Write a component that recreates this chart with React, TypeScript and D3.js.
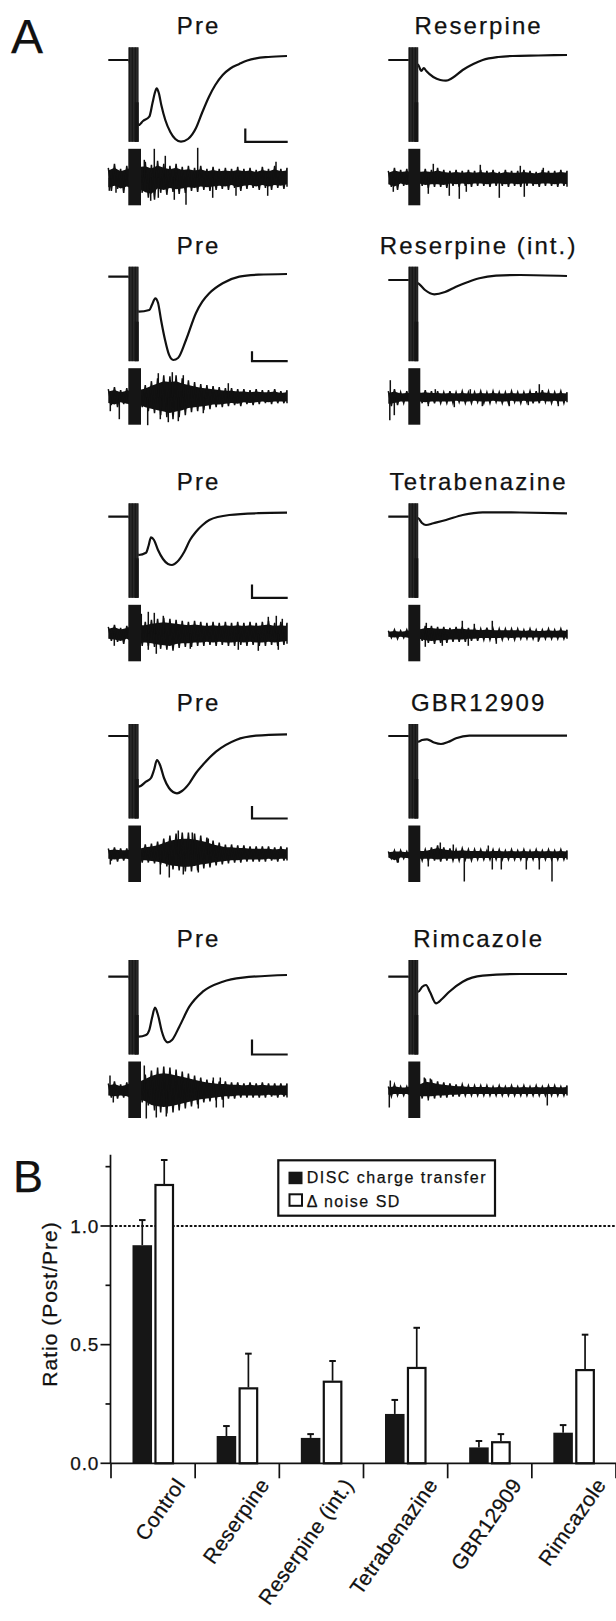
import React from "react";
import * as d3 from "d3";

const FONT = "'Liberation Sans', Arial, Helvetica, sans-serif";

// ===== Panel A: titles =====
const preTitles = ["Pre", "Pre", "Pre", "Pre", "Pre"];
const drugTitles = ["Reserpine", "Reserpine (int.)", "Tetrabenazine", "GBR12909", "Rimcazole"];

// ===== Panel A: evoked currents [time, current] =====
const pre1 = [[0, 0], [20, 0], [30.4, -65], [34.7, -61], [41, -56.7], [44.2, -43], [46.5, -33], [48.4, -28.3], [50.5, -33], [53, -45], [57, -60], [62, -72], [67, -79], [72.7, -81.7], [79.7, -79], [87.7, -68], [93.7, -53], [100.7, -36.7], [107, -25], [114.4, -15], [122, -8.5], [131, -4], [139, -0.5], [147.7, 1.7], [160, 3], [178.7, 4]];
const drug1 = [[0, 0], [20, 0], [30, -5], [33, -11], [35.5, -8], [38, -11], [45, -17], [52, -20], [57.7, -20.7], [64, -18], [74.4, -10], [85, -4], [94.4, 0], [110, 3], [124.4, 4], [150, 4.5], [178.7, 5]];
const pre2 = [[0, 0], [20, 0], [30.4, -35], [41, -33.3], [43.7, -28], [47, -21.6], [49.7, -26], [52.7, -43], [56.7, -63], [60.7, -78], [65, -83.3], [69.7, -81.3], [77.7, -63.3], [87.7, -36.3], [94, -25], [101, -16.6], [114.4, -6.6], [131, 0], [150, 2], [178.7, 2.7]];
const drug2 = [[0, 0], [20, 0], [30, -3.3], [36.7, -10], [46, -14.3], [56.7, -12], [67.7, -6.7], [79.7, -2], [91, 1.7], [107.7, 4.3], [131.7, 5], [178.7, 4]];
const pre3 = [[0, 0], [20, 0], [30.4, -38.3], [37.7, -36], [40.2, -29.3], [42.7, -20.6], [45.7, -23.3], [49.7, -33.3], [54.7, -42.3], [59.7, -47.3], [63.7, -48.3], [68.7, -45.3], [76, -35], [81.7, -23.3], [87.7, -15], [94, -8.5], [101, -3.3], [121, 1.7], [150, 3.5], [178.7, 4]];
const drug3 = [[0, 0], [20, 0], [30, -1.6], [33.7, -6.3], [37.7, -8.3], [45, -6.5], [57.7, -3.3], [74.4, 1.7], [94.4, 4.4], [131.7, 4.2], [178.7, 3.4]];
const pre4 = [[0, 0], [20, 0], [30.4, -50.7], [37.7, -45.7], [42.7, -42], [45.7, -34], [48.7, -24], [51.7, -29], [55.7, -42], [60.7, -52], [64.7, -56], [68.7, -57.3], [73.7, -55], [81, -47.3], [87.7, -37], [94.4, -29], [107.7, -15.7], [127.7, -4], [147.7, 0.3], [178.7, 1.7]];
const drug4 = [[0, 0], [20, 0], [30, -5.7], [33.7, -4], [38.7, -3.3], [45.7, -6.5], [52.7, -8], [59.7, -6], [67.7, -2.3], [81, 0.3], [178.7, 0.3]];
const pre5 = [[0, 0], [20, 0], [30.4, -60], [37.7, -58.3], [41, -53.3], [43.7, -41.3], [46.7, -31], [49.7, -38.3], [53.7, -55.3], [56.7, -63.3], [59.4, -65.6], [63.7, -63.3], [71, -50], [81, -30], [94.4, -15], [114.4, -5], [134.4, -1], [178.7, 1.7]];
const drug5 = [[0, 0], [20, 0], [30, -15], [33.7, -10.3], [37.7, -8.3], [41.7, -15.3], [47.7, -26.6], [53.7, -22.3], [61, -15], [74.4, -5], [94.4, 1], [131.7, 2.7], [178.7, 2.7]];

// stimulus train (time of each pulse) and artifact windows
const stimPulses = [21.3, 22.8, 24.3, 25.8, 27.3, 28.8];
const stimEnd = [30.4, 30];
const noiseStimEnd = [32.7, 32];

// scale bars (left column): [time, current]
const scaleBarT = [42.4, 35.7, 35.7, 35.7, 35.7];
const scaleBarI = [13.4, 10, 13.3, 12.6, 15];

// ===== Panel A: noise envelopes (upper / lower excursion) and spikes =====
const nPre1Up = [10, 14, 9, 12, 15, 15, 16, 13, 17, 14, 12, 14, 11, 12, 10, 12, 9, 11, 9, 10, 9, 11, 9, 10, 8, 11, 9, 12, 9, 10];
const nPre1Dn = [13, 11, 15, 12, 15, 15, 20, 22, 15, 17, 14, 16, 15, 13, 14, 12, 13, 12, 11, 12, 10, 13, 11, 10, 12, 10, 12, 10, 11, 9];
const nDrug1Up = [7, 10, 8, 9, 8, 8, 9, 8, 10, 8, 7, 8, 7, 8, 7, 8, 7, 8, 6, 8, 7, 7, 8, 7, 6, 8, 7, 7, 8, 7];
const nDrug1Dn = [9, 12, 8, 10, 8, 8, 10, 9, 9, 10, 8, 9, 8, 9, 8, 8, 9, 8, 8, 9, 8, 9, 8, 8, 9, 8, 8, 9, 8, 9];
const nPre2Up = [8, 10, 7, 9, 10, 10, 12, 16, 19, 22, 21, 22, 19, 17, 15, 13, 12, 11, 10, 9, 9, 8, 8, 7, 8, 7, 7, 8, 6, 7];
const nPre2Dn = [8, 10, 7, 9, 10, 10, 14, 16, 18, 20, 22, 20, 18, 15, 14, 13, 12, 10, 10, 9, 8, 9, 7, 8, 7, 6, 7, 6, 6, 6];
const nDrug2Up = [6, 8, 5, 6, 6, 6, 7, 6, 6, 5, 6, 5, 6, 5, 5, 6, 5, 6, 5, 5, 6, 5, 5, 6, 6, 7, 6, 5, 6, 5];
const nDrug2Dn = [9, 8, 6, 6, 6, 6, 7, 6, 6, 6, 6, 5, 6, 6, 5, 6, 6, 5, 6, 6, 5, 6, 5, 6, 6, 5, 6, 5, 6, 5];
const nPre3Up = [7, 9, 6, 8, 12, 12, 12, 14, 15, 16, 15, 14, 13, 12, 13, 12, 11, 12, 11, 12, 11, 12, 11, 12, 11, 12, 13, 11, 12, 11];
const nPre3Dn = [7, 8, 10, 7, 12, 12, 12, 13, 15, 16, 17, 14, 13, 13, 12, 12, 11, 12, 11, 12, 12, 11, 12, 11, 12, 12, 11, 12, 11, 10];
const nDrug3Up = [3, 4, 3, 4, 6, 6, 8, 8, 7, 7, 6, 7, 7, 6, 6, 5, 6, 5, 5, 5, 5, 5, 4, 5, 4, 4, 5, 4, 5, 4];
const nDrug3Dn = [4, 5, 4, 5, 7, 7, 9, 10, 9, 9, 8, 8, 8, 7, 7, 6, 6, 6, 6, 5, 6, 5, 5, 5, 5, 5, 5, 5, 5, 5];
const nPre4Up = [6, 7, 6, 6, 8, 8, 10, 11, 13, 16, 19, 21, 22, 22, 21, 19, 17, 14, 12, 10, 10, 9, 9, 8, 8, 8, 8, 7, 8, 7];
const nPre4Dn = [6, 7, 6, 6, 8, 8, 8, 9, 10, 12, 15, 16, 17, 17, 16, 14, 13, 11, 10, 9, 8, 8, 7, 7, 7, 7, 6, 7, 6, 6];
const nDrug4Up = [3, 4, 4, 3, 5, 5, 5, 7, 9, 7, 6, 5, 6, 5, 5, 5, 4, 5, 5, 4, 5, 4, 5, 4, 5, 4, 5, 4, 5, 4];
const nDrug4Dn = [4, 8, 4, 5, 6, 6, 6, 6, 7, 6, 6, 6, 5, 6, 5, 5, 5, 5, 5, 5, 5, 5, 5, 5, 5, 5, 5, 5, 5, 5];
const nPre5Up = [7, 9, 6, 8, 12, 12, 16, 20, 23, 24, 23, 21, 19, 17, 15, 13, 11, 10, 9, 9, 8, 8, 7, 8, 7, 8, 7, 7, 7, 7];
const nPre5Dn = [7, 8, 7, 8, 12, 12, 15, 20, 22, 23, 22, 20, 18, 16, 14, 12, 11, 10, 9, 8, 8, 7, 7, 7, 7, 7, 6, 7, 6, 7];
const nDrug5Up = [4, 6, 4, 4, 8, 8, 12, 11, 9, 8, 7, 6, 6, 5, 5, 5, 5, 4, 5, 4, 5, 4, 5, 4, 5, 4, 5, 5, 4, 5];
const nDrug5Dn = [6, 5, 5, 5, 8, 8, 8, 8, 7, 7, 6, 6, 5, 5, 5, 5, 5, 5, 5, 5, 5, 5, 5, 5, 5, 5, 5, 5, 5, 5];

const sPre1 = [[1, -13], [7.7, -15], [36, 18], [42.4, -23], [46, 29], [50, -20], [57, 22], [66, -22], [77.7, -27], [89.4, 30], [104.4, -20], [127.7, -18], [159.4, -18], [167.7, 16]];
const sDrug1 = [[5, -14], [40, -16], [45, 14], [61, -18], [71, -21], [78, -14], [92, 13], [111, -20], [132, 12], [136, -19], [155, 10]];
const sPre2 = [[2, -14], [11, -22], [39.4, -28], [50, 24], [52, -22], [60, -25], [64, 25], [70, -24], [75, 22], [95, -16], [120, 14]];
const sDrug2 = [[1.5, -23], [2, 17], [6, -18], [40, -9], [47, 8], [66, -10], [82, 8], [94, -9], [121, -9], [140, -8], [151, 13], [170, -9]];
const sPre3 = [[6, -12], [33, 20], [40, 22], [40, -16], [46, 21], [48, -20], [55, 18], [82, -15], [130, -16], [150, -17], [160, 17], [168, 18], [170, -16], [174, 15]];
const sDrug3 = [[37, -13], [38, 11], [54, -12], [74, 13], [80, -12], [86, 10], [104, 13], [108, -10], [150, -8]];
const sPre4 = [[2, -10], [52, -20], [61, -23], [70, 24], [75, -20], [84, 22], [90, -18], [100, 16]];
const sDrug4 = [[10, -8], [40, -12], [52, 12], [65, 10], [76, -27], [100, 9], [104, -15], [113, -15], [138, -15], [151, -15], [163.7, -27]];
const sPre5 = [[1.7, 15], [5, -12], [36, 25], [38, -28], [48, -27], [58, -26], [90, -18], [105, 13], [108, -17], [112, 13], [115, -17]];
const sDrug5 = [[1, -17], [2, 10], [36, 13], [40, -10], [42, 12], [159, -15]];

// ===== Panel B data =====
const categories = ["Control", "Reserpine", "Reserpine (int.)", "Tetrabenazine", "GBR12909", "Rimcazole"];
const discMean = [0.919, 0.115, 0.107, 0.208, 0.067, 0.129];
const discErr = [0.106, 0.042, 0.016, 0.059, 0.027, 0.032];
const noiseMean = [1.177, 0.32, 0.348, 0.406, 0.093, 0.397];
const noiseErr = [0.101, 0.142, 0.083, 0.165, 0.03, 0.145];
const yTicksMajor = [0, 0.5, 1.0];
const yTicksMinor = [0.25, 0.75, 1.25];

// layout of panel A
const colX = [108.3, 388.3];
const rowTop = [47.3, 266.7, 503.3, 724, 960];
const baseOff = [[12.7, 12.7], [10, 13.3], [13.4, 13.4], [12, 12], [16.7, 16.7]];
const TRACE_T = 178.7;
const INK = "#111";
const TXT = { fill: INK, stroke: INK, strokeWidth: 0.25 };

const evoked = [[pre1, drug1], [pre2, drug2], [pre3, drug3], [pre4, drug4], [pre5, drug5]];
const noiseUp = [[nPre1Up, nDrug1Up], [nPre2Up, nDrug2Up], [nPre3Up, nDrug3Up], [nPre4Up, nDrug4Up], [nPre5Up, nDrug5Up]];
const noiseDn = [[nPre1Dn, nDrug1Dn], [nPre2Dn, nDrug2Dn], [nPre3Dn, nDrug3Dn], [nPre4Dn, nDrug4Dn], [nPre5Dn, nDrug5Dn]];
const spikes = [[sPre1, sDrug1], [sPre2, sDrug2], [sPre3, sDrug3], [sPre4, sDrug4], [sPre5, sDrug5]];

const Cell = ({ row, col }: { row: number; col: number }) => {
  const top = rowTop[row];
  const y0 = top + baseOff[row][col];
  const nc = top + 130.5;
  const x = d3.scaleLinear().domain([0, TRACE_T]).range([colX[col], colX[col] + TRACE_T]);
  const yE = d3.scaleLinear().domain([0, -100]).range([y0, y0 + 100]);
  const yN = d3.scaleLinear().domain([0, -100]).range([nc, nc + 100]);

  const line = d3
    .line<number[]>()
    .x(d => x(d[0]))
    .y(d => yE(d[1]))
    .curve(d3.curveMonotoneX);

  // noise: dense core + zigzag edge
  const up = noiseUp[row][col];
  const dn = noiseDn[row][col];
  const step = TRACE_T / (up.length - 1);
  const core = d3
    .area<number>()
    .x((_, i) => x(i * step))
    .y0((_, i) => yN(-dn[i] * 0.72))
    .y1(u => yN(u * 0.72));
  const zz: number[][] = [];
  up.forEach((u, i) => {
    zz.push([i * step, u]);
    zz.push([Math.min(i * step + step / 2, TRACE_T), -dn[i]]);
  });
  const zig = d3
    .line<number[]>()
    .x(d => x(d[0]))
    .y(d => yN(d[1]));

  const artBottom = top + 94.5;
  const title = col === 0 ? preTitles[row] : drugTitles[row];

  let bar = null;
  if (col === 0) {
    const vb = yE.invert(artBottom);
    const xr = x(179.4);
    const xl = x(179.4 - scaleBarT[row]);
    bar = (
      <path
        d={`M${xl},${yE(vb + scaleBarI[row])}V${yE(vb)}H${xr}`}
        fill="none"
        stroke={INK}
        strokeWidth={2.2}
      />
    );
  }

  return (
    <g>
      <text
        x={x(TRACE_T / 2) + 1}
        y={top - 13}
        textAnchor="middle"
        fontSize={24}
        letterSpacing={2.1}
        {...TXT}
      >
        {title}
      </text>
      <path d={line(evoked[row][col] as number[][]) || ""} fill="none" stroke={INK} strokeWidth={2.2} />
      <rect x={x(20)} y={top} width={x(stimEnd[col]) - x(20)} height={94.5} fill="#3a3a3a" />
      {stimPulses.map((t, i) => (
        <line key={i} x1={x(t)} x2={x(t)} y1={top} y2={artBottom} stroke={INK} strokeWidth={0.9} />
      ))}
      <rect x={x(stimEnd[col]) - 4} y={top + 55} width={4} height={39.5} fill="#151515" />
      {bar}
      <path d={core(up) || ""} fill={INK} />
      <path d={zig(zz) || ""} fill="none" stroke={INK} strokeWidth={1.5} />
      {spikes[row][col].map((s, i) => (
        <line key={i} x1={x(s[0])} x2={x(s[0])} y1={yN(0)} y2={yN(s[1])} stroke={INK} strokeWidth={1.5} />
      ))}
      <rect
        x={x(20)}
        y={top + 101.5}
        width={x(noiseStimEnd[col]) - x(20)}
        height={56.5}
        fill="#151515"
      />
    </g>
  );
};

const PanelB = () => {
  const y = d3.scaleLinear().domain([0, 1.3]).range([1463.3, 1154.8]);
  const x0 = d3.scaleBand().domain(categories).range([111, 616]).paddingInner(0).paddingOuter(0);
  const x1 = d3.scaleBand().domain(["disc", "noise"]).range([21.5, 63]).paddingInner(0.11);
  const bw = x1.bandwidth();
  const axisX = 110.5;
  const bars = categories.map((c, i) => {
    const bx = x0(c)!;
    const dx = bx + x1("disc")!;
    const nx = bx + x1("noise")!;
    const err = (cx: number, v: number, e: number) => (
      <g>
        <line x1={cx} x2={cx} y1={y(v)} y2={y(v + e)} stroke={INK} strokeWidth={1.7} />
        <line x1={cx - 3.3} x2={cx + 3.3} y1={y(v + e)} y2={y(v + e)} stroke={INK} strokeWidth={2} />
      </g>
    );
    return (
      <g key={c}>
        {err(dx + bw / 2, discMean[i], discErr[i])}
        {err(nx + bw / 2, noiseMean[i], noiseErr[i])}
        <rect x={dx} y={y(discMean[i])} width={bw} height={y(0) - y(discMean[i])} fill="#161616" />
        <rect
          x={nx + 1}
          y={y(noiseMean[i]) + 1}
          width={bw - 2}
          height={y(0) - y(noiseMean[i]) - 1}
          fill="#fff"
          stroke={INK}
          strokeWidth={2.2}
        />
      </g>
    );
  });
  const tickXs = [...categories.map(c => x0(c)!), x0.range()[1]];
  return (
    <g>
      <text x={13} y={1192} fontSize={45} {...TXT}>B</text>
      <line x1={axisX} x2={616} y1={y(1)} y2={y(1)} stroke={INK} strokeWidth={1.8} strokeDasharray="2.6,1.8" />
      {bars}
      <line x1={axisX} x2={axisX} y1={y(1.3)} y2={y(0)} stroke={INK} strokeWidth={1.7} />
      <line x1={axisX} x2={616} y1={y(0)} y2={y(0)} stroke={INK} strokeWidth={1.7} />
      {yTicksMajor.map(t => (
        <g key={t}>
          <line x1={axisX - 10} x2={axisX} y1={y(t)} y2={y(t)} stroke={INK} strokeWidth={1.7} />
          <text x={99.3} y={y(t) + 6.8} textAnchor="end" fontSize={19} letterSpacing={0.9} {...TXT}>
            {t.toFixed(1)}
          </text>
        </g>
      ))}
      {yTicksMinor.map(t => (
        <line key={t} x1={axisX - 5} x2={axisX} y1={y(t)} y2={y(t)} stroke={INK} strokeWidth={1.7} />
      ))}
      {tickXs.map((tx, i) => (
        <line key={i} x1={tx} x2={tx} y1={y(0)} y2={y(0) + 15} stroke={INK} strokeWidth={1.7} />
      ))}
      {categories.map(c => (
        <text
          key={c}
          transform={`translate(${x0(c)! + x0.bandwidth() / 2 + 33},1485) rotate(-55)`}
          textAnchor="end"
          fontSize={21}
          letterSpacing={0.3}
          {...TXT}
        >
          {c}
        </text>
      ))}
      <text
        transform="translate(56.7,1304) rotate(-90)"
        textAnchor="middle"
        fontSize={21}
        letterSpacing={1}
        {...TXT}
      >
        Ratio (Post/Pre)
      </text>
      {/* legend */}
      <rect x={278.3} y={1160.3} width={216.7} height={55.4} fill="#fff" stroke={INK} strokeWidth={2.2} />
      <rect x={288.5} y={1171.7} width={14} height={12.5} fill="#161616" />
      <rect x={289.5} y={1194.3} width={12.5} height={11.5} fill="#fff" stroke={INK} strokeWidth={2} />
      <text x={306.7} y={1183.3} fontSize={16} letterSpacing={1.5} {...TXT}>DISC charge transfer</text>
      <text x={306.7} y={1206.7} fontSize={16} letterSpacing={1.5} {...TXT}>Δ noise SD</text>
    </g>
  );
};

export default function App() {
  return (
    <svg
      width={616}
      height={1621}
      style={{ position: "absolute", left: 0, top: 0, display: "block" }}
      fontFamily={FONT}
    >
      <rect width={616} height={1621} fill="#fff" />
      <text x={11} y={53} fontSize={48} {...TXT}>A</text>
      {rowTop.map((_, r) => (
        <g key={r}>
          <Cell row={r} col={0} />
          <Cell row={r} col={1} />
        </g>
      ))}
      <PanelB />
    </svg>
  );
}
